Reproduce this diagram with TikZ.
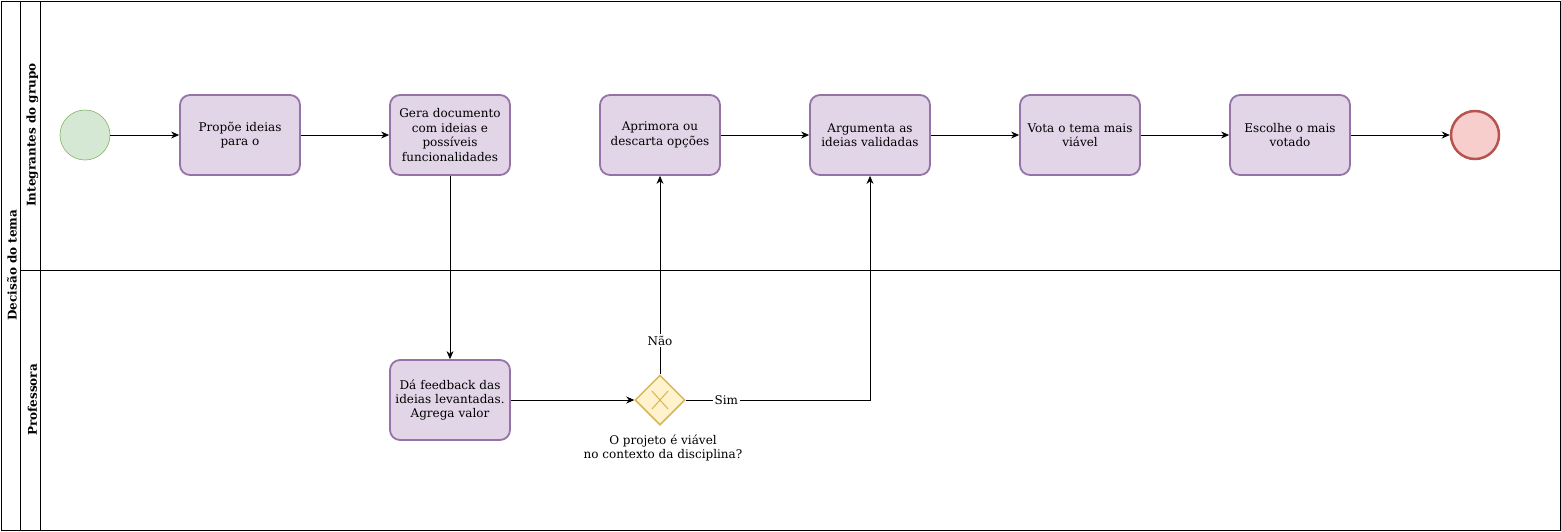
\documentclass[tikz,border=0pt]{standalone}
\usepackage{fontspec}
\setmainfont{DejaVu Serif}
\usetikzlibrary{arrows.meta,shapes.geometric}
\definecolor{taskfill}{HTML}{E1D5E7}
\definecolor{taskdraw}{HTML}{9673A6}
\definecolor{startfill}{HTML}{D5E8D4}
\definecolor{startdraw}{HTML}{82B366}
\definecolor{endfill}{HTML}{F8CECC}
\definecolor{enddraw}{HTML}{B85450}
\definecolor{gwfill}{HTML}{FFF2CC}
\definecolor{gwdraw}{HTML}{D6B656}
\begin{document}
\begin{tikzpicture}[x=1pt,y=-1pt,
  font=\fontsize{12}{14.4}\selectfont,
  task/.style={draw=taskdraw,fill=taskfill,line width=1.8pt,rounded corners=10pt,
    minimum width=120pt,minimum height=80pt,align=center,text width=114pt,inner sep=0pt},
  startev/.style={circle,draw=startdraw,fill=startfill,line width=0.6pt,minimum size=50pt,inner sep=0pt},
  endev/.style={circle,draw=enddraw,fill=endfill,line width=2.5pt,minimum size=48pt,inner sep=0pt},
  gateway/.style={diamond,draw=gwdraw,fill=gwfill,line width=1.5pt,minimum width=50pt,minimum height=50pt,inner sep=0pt},
  flow/.style={-{Stealth[length=8pt,width=7pt]},line width=0.8pt},
  lanetxt/.style={rotate=90,font=\fontsize{12}{14.4}\selectfont\bfseries},
  elabel/.style={fill=white,inner sep=1.5pt}
]
\useasboundingbox (0,0) rectangle (1561,531);
% pool and lanes
\draw[line width=0.8pt] (1,1) rectangle (1560,530);
\draw[line width=0.8pt] (20,1) -- (20,530);
\draw[line width=0.8pt] (40,1) -- (40,530);
\draw[line width=0.8pt] (20,270) -- (1560,270);
\node[lanetxt] (pool) at (12,265) {Decisão do tema};
\node[lanetxt] (lane1) at (32.5,135) {Integrantes do grupo};
\node[lanetxt] (lane2) at (32.5,400) {Professora};
% nodes
\node[startev] (start) at (85,135) {};
\node[task] (t1) at (240,135) {Propõe ideias\\para o};
\node[task] (t2) at (450,135) {Gera documento\\com ideias e\\possíveis\\funcionalidades};
\node[task] (t3) at (660,135) {Aprimora ou\\descarta opções};
\node[task] (t4) at (870,135) {Argumenta as\\ideias validadas};
\node[task] (t5) at (1080,135) {Vota o tema mais\\viável};
\node[task] (t6) at (1290,135) {Escolhe o mais\\votado};
\node[endev] (end) at (1475,135) {};
\node[task] (t7) at (450,400) {Dá feedback das\\ideias levantadas.\\Agrega valor};
\node[gateway] (gw) at (660,400) {};
\draw[gwdraw,line width=1pt] (652,391) -- (668,409) (668,391) -- (652,409);
\node[align=center] (gwlabel) at (663,448) {O projeto é viável\\no contexto da disciplina?};
% flows
\draw[flow] (start) -- (t1);
\draw[flow] (t1) -- (t2);
\draw[flow] (t2) -- (t7);
\draw[flow] (t7) -- (gw);
\draw[flow] (gw.north) -- node[elabel,pos=0.17] (nao) {Não} (t3.south);
\coordinate (corner) at (870,400);
\draw[flow] (gw.east) -- node[elabel,pos=0.22] (sim) {Sim} (corner) -- (t4.south);
\draw[flow] (t3) -- (t4);
\draw[flow] (t4) -- (t5);
\draw[flow] (t5) -- (t6);
\draw[flow] (t6) -- (end);
\end{tikzpicture}
\end{document}
